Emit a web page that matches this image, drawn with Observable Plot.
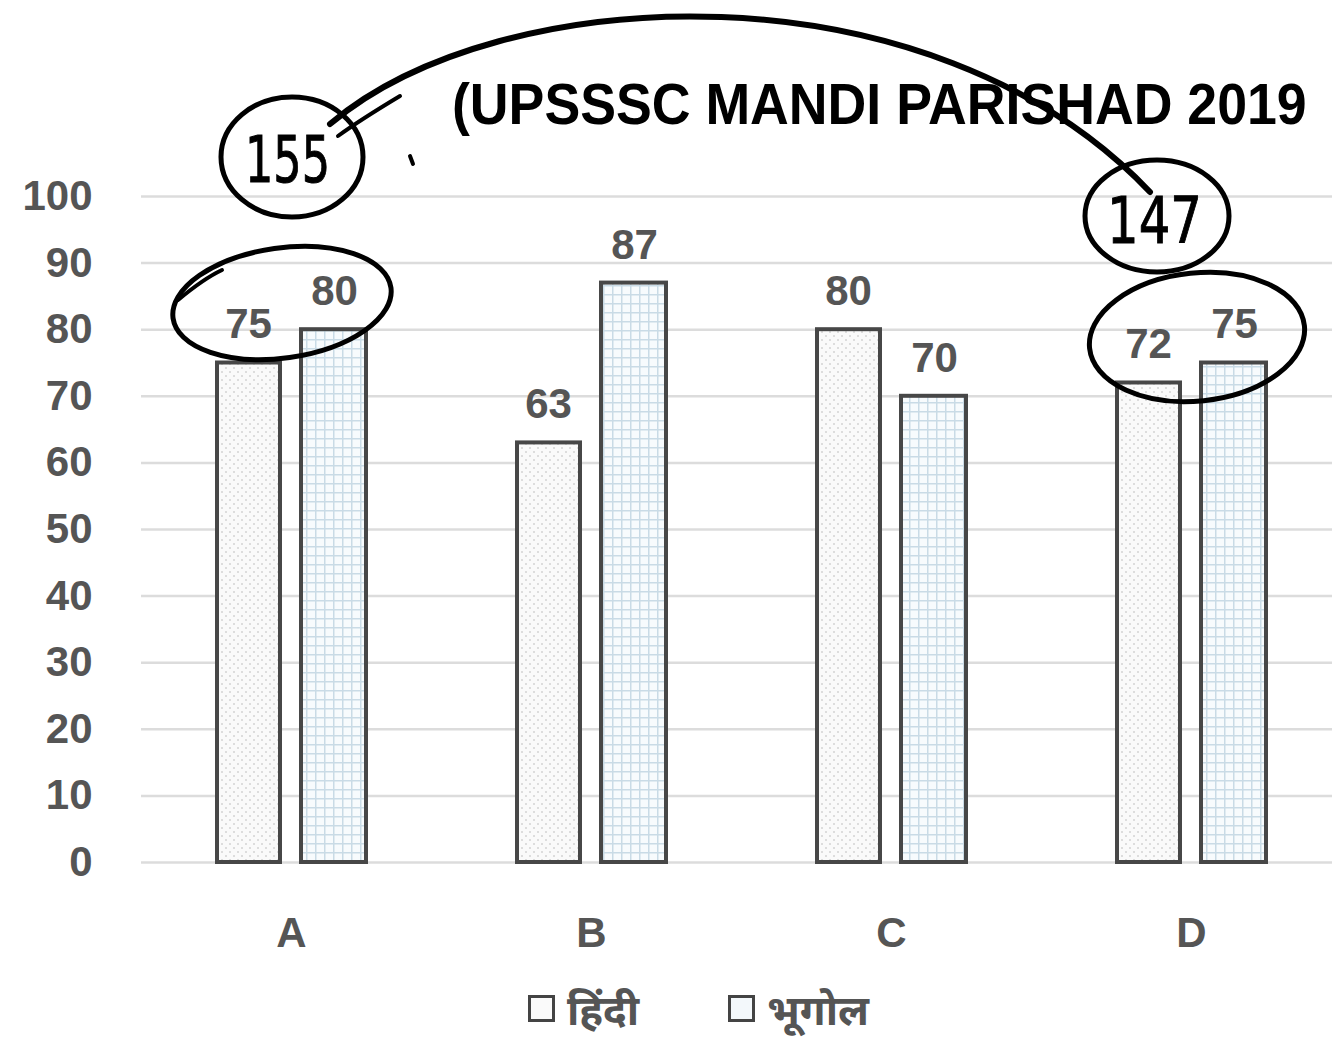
<!DOCTYPE html>
<html>
<head>
<meta charset="utf-8">
<script src="https://cdn.jsdelivr.net/npm/d3@7"></script>
<script src="https://cdn.jsdelivr.net/npm/@observablehq/plot@0.6"></script>
<style>
  html, body { margin: 0; padding: 0; background: #fff; width: 1332px; height: 1045px; overflow: hidden; }
  #wrap { position: relative; width: 1332px; height: 1045px; }
  #header { height: 150px; }
  #legend { height: 75px; position: relative; font-family: "Liberation Sans", "Noto Sans", sans-serif; }
  .item { position: absolute; top: 10px; display: flex; align-items: center; color: #555; font-weight: bold; font-size: 42px; }
  .sw { width: 21px; height: 21px; border: 3px solid #444; margin-right: 12px; }
  #overlay { position: absolute; left: 0; top: 0; pointer-events: none; }
</style>
</head>
<body>
<div id="wrap">
  <div id="header"></div>
  <div id="chart"></div>
  <div id="legend"></div>
  <svg id="overlay" width="1332" height="1045"></svg>
</div>
<script>
// ---- data ----
const categories = ["A", "B", "C", "D"];
const seriesNames = ["हिंदी", "भूगोल"];
const hindi = [75, 63, 80, 72];
const bhugol = [80, 87, 70, 75];
const yTicks = [0, 10, 20, 30, 40, 50, 60, 70, 80, 90, 100];
const titleText = "(UPSSSC MANDI PARISHAD 2019";
const notes = ["155", "147"];

const hData = categories.map((c, i) => ({category: c, value: hindi[i]}));
const bData = categories.map((c, i) => ({category: c, value: bhugol[i]}));

// ---- title (condensed to the reference width) ----
const tsvg = d3.select("#header").append("svg").attr("width", 1332).attr("height", 150);
const tt = tsvg.append("text").attr("x", 0).attr("y", 0)
  .attr("font-family", "Liberation Sans, Arial, sans-serif")
  .attr("font-weight", "bold").attr("font-size", 58).attr("fill", "#000")
  .text(titleText);
const natural = tt.node().getComputedTextLength();
tt.attr("transform", `translate(452,124) scale(${855 / natural},1)`);

// ---- chart ----
const txt = {fill: "#555", fontWeight: "bold"};
const chart = Plot.plot({
  width: 1332, height: 820,
  marginLeft: 141, marginRight: -9, marginTop: 46, marginBottom: 108,
  style: {fontFamily: "Liberation Sans, Arial, sans-serif", fontSize: "42px", background: "transparent", overflow: "visible"},
  x: {domain: categories, padding: 0, axis: null},
  y: {domain: [0, 100], axis: null},
  marks: [
    Plot.ruleY(yTicks, {stroke: "#dcdcdc", strokeWidth: 2.5}),
    Plot.barY(hData, {x: "category", y: "value", fill: "url(#pat-h)", stroke: "#474747", strokeWidth: 4, insetLeft: 76, insetRight: 161}),
    Plot.barY(bData, {x: "category", y: "value", fill: "url(#pat-b)", stroke: "#474747", strokeWidth: 4, insetLeft: 160, insetRight: 75}),
    Plot.text(hData, {x: "category", y: "value", text: d => String(d.value), dx: -43, dy: -38, ...txt}),
    Plot.text(bData, {x: "category", y: "value", text: d => String(d.value), dx: 43, dy: -38, ...txt}),
    Plot.text(yTicks, {y: d => d, text: d => String(d), frameAnchor: "left", dx: -49, textAnchor: "end", fontSize: 42, ...txt}),
    Plot.text(categories, {x: d => d, text: d => d, frameAnchor: "bottom", dy: 84, ...txt})
  ]
});
document.getElementById("chart").appendChild(chart);

// patterns
const defs = d3.select(chart).insert("defs", ":first-child");
const ph = defs.append("pattern").attr("id", "pat-h").attr("patternUnits", "userSpaceOnUse").attr("width", 8).attr("height", 8);
ph.append("rect").attr("width", 8).attr("height", 8).attr("fill", "#fafafa");
ph.append("circle").attr("cx", 2).attr("cy", 2).attr("r", 1).attr("fill", "#d4d4d4");
ph.append("circle").attr("cx", 6).attr("cy", 6).attr("r", 1).attr("fill", "#d4d4d4");
const pb = defs.append("pattern").attr("id", "pat-b").attr("patternUnits", "userSpaceOnUse").attr("width", 9).attr("height", 9);
pb.append("rect").attr("width", 9).attr("height", 9).attr("fill", "#f7fbfd");
pb.append("path").attr("d", "M0 0.75H9 M0.75 0V9").attr("stroke", "#c9dbe6").attr("stroke-width", 1.5);

// ---- legend ----
const lg = d3.select("#legend");
[[528, seriesNames[0]], [728, seriesNames[1]]].forEach(([x, name], i) => {
  const it = lg.append("div").attr("class", "item").style("left", x + "px");
  it.append("div").attr("class", "sw").style("background", i ? "#f3f8fb" : "#fafafa");
  it.append("span").text(name);
});

// ---- handwritten annotations overlay ----
const ov = d3.select("#overlay");
const pen = {stroke: "#000", "stroke-width": 5, fill: "none", "stroke-linecap": "round"};
function draw(el, attrs) { const e = ov.append(el); Object.entries({...pen, ...attrs}).forEach(([k, v]) => e.attr(k, v)); return e; }
draw("ellipse", {cx: 292, cy: 157, rx: 71, ry: 60});
draw("ellipse", {cx: 282, cy: 303, rx: 110, ry: 55, transform: "rotate(-8 282 303)"});
draw("ellipse", {cx: 1157, cy: 216, rx: 72, ry: 56});
draw("ellipse", {cx: 1197, cy: 337, rx: 108, ry: 64, transform: "rotate(-6 1197 337)"});
draw("path", {d: "M 330 124 C 500 -20, 930 -40, 1150 192", "stroke-width": 6});
draw("path", {d: "M 338 136 C 360 120, 380 108, 400 96", "stroke-width": 4});
draw("path", {d: "M 178 300 C 190 290, 205 278, 222 270", "stroke-width": 4});
draw("path", {d: "M 410 156 L 413 164", "stroke-width": 4});
ov.append("text").attr("x", 245).attr("y", 182).attr("font-family", "DejaVu Sans, sans-serif")
  .attr("font-size", 64).attr("fill", "#000").attr("stroke", "#000").attr("stroke-width", 1)
  .attr("textLength", 85).attr("lengthAdjust", "spacingAndGlyphs").text(notes[0]);
ov.append("text").attr("x", 1107).attr("y", 243).attr("font-family", "DejaVu Sans, sans-serif")
  .attr("font-size", 64).attr("fill", "#000").attr("stroke", "#000").attr("stroke-width", 1)
  .attr("textLength", 95).attr("lengthAdjust", "spacingAndGlyphs").text(notes[1]);
</script>
</body>
</html>
